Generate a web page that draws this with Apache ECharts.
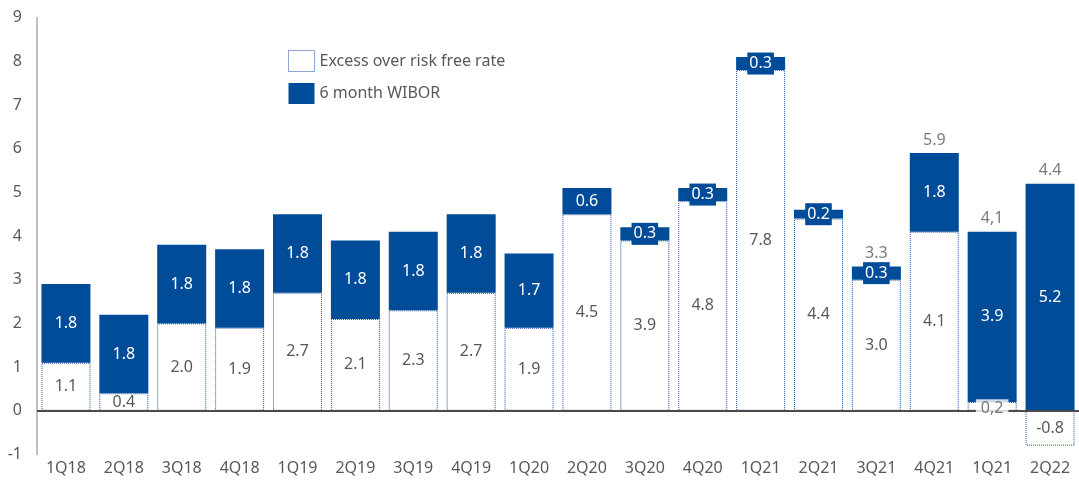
<!DOCTYPE html>
<html><head><meta charset="utf-8">
<script src="https://cdn.jsdelivr.net/npm/echarts@6/dist/echarts.min.js"></script>
<style>html,body{margin:0;padding:0;background:#fff}#c{width:1079px;height:482px}</style>
</head><body><div id="c"></div>
<script>
const categories = ['1Q18','2Q18','3Q18','4Q18','1Q19','2Q19','3Q19','4Q19','1Q20','2Q20','3Q20','4Q20','1Q21','2Q21','3Q21','4Q21','1Q21','2Q22'];
const excess = [1.1,0.4,2.0,1.9,2.7,2.1,2.3,2.7,1.9,4.5,3.9,4.8,7.8,4.4,3.0,4.1,0.2,-0.8];
const wibor  = [1.8,1.8,1.8,1.8,1.8,1.8,1.8,1.8,1.7,0.6,0.3,0.3,0.3,0.2,0.3,1.8,3.9,5.2];
const excessLabels = ['1.1','0.4','2.0','1.9','2.7','2.1','2.3','2.7','1.9','4.5','3.9','4.8','7.8','4.4','3.0','4.1','0,2','-0.8'];
const wiborLabels  = ['1.8','1.8','1.8','1.8','1.8','1.8','1.8','1.8','1.7','0.6','0.3','0.3','0.3','0.2','0.3','1.8','3.9','5.2'];
const totalLabels  = ['','','','','','','','','','','','','','','3.3','5.9','4,1','4.4'];
const boxedExcess = [16];

const BLUE = '#004C99', DOT = '#1F4F9C', GREY = '#595959';
const FONT = 'Noto Sans';
const FS = 16;

const chart = echarts.init(document.getElementById('c'), null, {renderer: 'canvas'});

const excessData = excess.map((v, i) => ({
  value: v,
  label: {show: boxedExcess.indexOf(i) < 0, formatter: excessLabels[i]}
}));
const wiborData = wibor.map((v, i) => {
  const small = v < 0.5;
  return {
    value: v,
    label: small ? {formatter: wiborLabels[i], backgroundColor: BLUE, padding: [3, 2]} : {formatter: wiborLabels[i]}
  };
});
const overlay = [];
totalLabels.forEach((t, i) => {
  if (t) {
    const top = (excess[i] > 0 ? excess[i] : 0) + wibor[i];
    overlay.push({value: [i, top], label: {show: true, position: 'top', distance: 5, formatter: t, color: GREY}});
  }
});
boxedExcess.forEach(i => {
  overlay.push({value: [i, excess[i] / 2], label: {show: true, position: 'inside', formatter: excessLabels[i],
    color: GREY, backgroundColor: '#fff', padding: [1, 5], offset: [0, 2]}});
});

chart.setOption({
  animation: false,
  textStyle: {fontFamily: FONT},
  legend: {
    orient: 'vertical', left: 283, top: 45, itemWidth: 26, itemHeight: 21, itemGap: 11,
    selectedMode: false,
    textStyle: {fontSize: FS, color: GREY, fontFamily: FONT},
    data: [
      {name: 'Excess over risk free rate', icon: 'rect', itemStyle: {color: '#fff', borderColor: DOT, borderWidth: 1, borderType: 'dotted'}},
      {name: '6 month WIBOR', icon: 'rect', itemStyle: {color: BLUE, borderWidth: 0}}
    ]
  },
  grid: {left: 37, right: -9, top: 17.7, bottom: 27.6, containLabel: false},
  xAxis: {
    type: 'category', data: categories,
    axisLine: {show: false}, axisTick: {show: false},
    axisLabel: {color: GREY, fontSize: FS, margin: 6, interval: 0, fontFamily: FONT}
  },
  yAxis: {
    type: 'value', min: -1, max: 9, interval: 1,
    axisLine: {show: true, lineStyle: {color: '#C0C0C0', width: 2}},
    axisTick: {show: false}, splitLine: {show: false},
    axisLabel: {color: GREY, fontSize: FS, margin: 15, fontFamily: FONT}
  },
  series: [
    {
      name: 'Excess over risk free rate', type: 'bar', stack: 'a', barWidth: 49,
      itemStyle: {color: '#fff', borderColor: DOT, borderWidth: 1, borderType: 'dotted'},
      label: {show: true, position: 'inside', color: GREY, fontSize: FS, fontFamily: FONT},
      emphasis: {disabled: true},
      data: excessData,
      markLine: {
        silent: true, symbol: ['none', 'none'], label: {show: false},
        lineStyle: {color: '#4A4A4A', width: 2, type: 'solid'},
        emphasis: {disabled: true},
        data: [{yAxis: 0}]
      }
    },
    {
      name: '6 month WIBOR', type: 'bar', stack: 'a', barWidth: 49,
      itemStyle: {color: BLUE},
      label: {show: true, position: 'inside', color: '#fff', fontSize: FS, fontFamily: FONT},
      emphasis: {disabled: true},
      data: wiborData
    },
    {
      name: 'labels', type: 'scatter', symbolSize: 0, z: 10, silent: true,
      label: {show: true, fontSize: FS, fontFamily: FONT, color: GREY},
      data: overlay
    }
  ]
});
</script></body></html>
